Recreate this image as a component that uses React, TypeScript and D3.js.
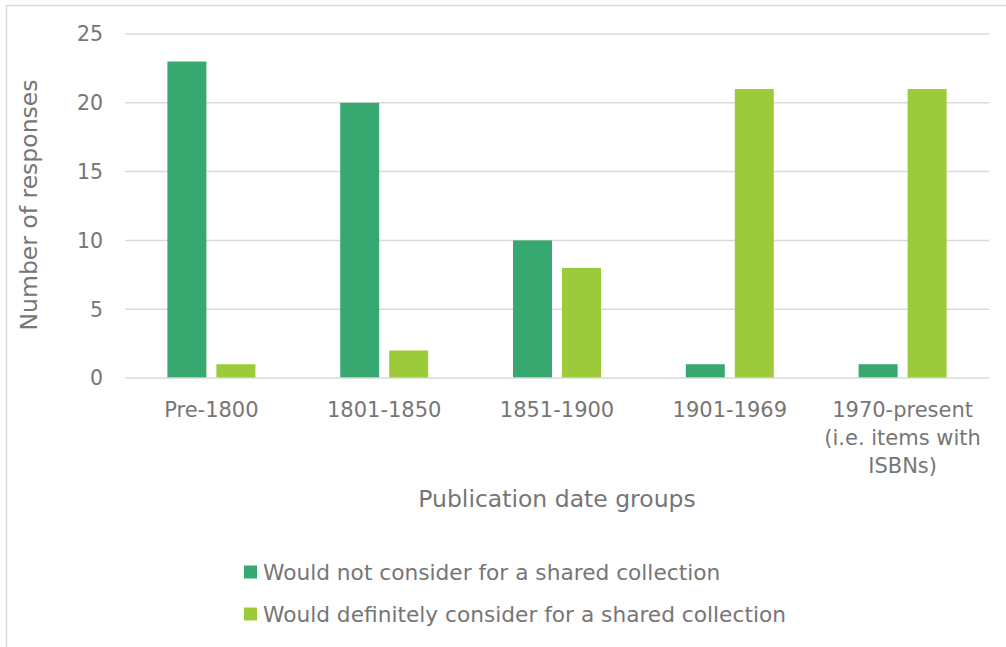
import React from "react";
import * as d3 from "d3";

const categories: string[][] = [
  ["Pre-1800"],
  ["1801-1850"],
  ["1851-1900"],
  ["1901-1969"],
  ["1970-present", "(i.e. items with", "ISBNs)"],
];
const seriesNames = [
  "Would not consider for a shared collection",
  "Would definitely consider for a shared collection",
];
const wouldNot = [23, 20, 10, 1, 1];
const wouldDefinitely = [1, 2, 8, 21, 21];
const yTicks = [0, 5, 10, 15, 20, 25];
const colors = ["#37A86F", "#9BCB3B"];
const xTitle = "Publication date groups";
const yTitle = "Number of responses";

const W = 1006;
const H = 647;
const left = 125;
const right = 989;
const top = 34;
const bottom = 378;
const font = "'DejaVu Sans', sans-serif";
const textColor = "#767676";

export default function App() {
  const idx = categories.map((_, i) => String(i));
  const x = d3.scaleBand<string>().domain(idx).range([left, right]).paddingInner(0).paddingOuter(0);
  const y = d3.scaleLinear().domain([0, 25]).range([bottom, top]);
  const barW = 39;
  const gap = 10;
  const series = [wouldNot, wouldDefinitely];

  return (
    <svg width={W} height={H} style={{ position: "absolute", left: 0, top: 0, display: "block" }}>
      <rect x={0} y={0} width={W} height={H} fill="#fff" />
      <rect x={6.5} y={5.5} width={W + 10} height={H + 10} fill="none" stroke="#d9d9d9" strokeWidth={1.5} />
      {yTicks.map((t) => (
        <g key={t}>
          {t > 0 && (
            <line x1={left} x2={right} y1={y(t)} y2={y(t)} stroke="#d9d9d9" strokeWidth={1.5} />
          )}
          <text x={103} y={y(t)} dy="0.36em" textAnchor="end" fontFamily={font} fontSize={20.5} fill={textColor}>
            {t}
          </text>
        </g>
      ))}
      {series.map((vals, s) =>
        vals.map((v, i) => {
          const cx = (x(String(i)) as number) + x.bandwidth() / 2;
          const bx = s === 0 ? cx - gap / 2 - barW : cx + gap / 2;
          return (
            <rect key={`${s}-${i}`} x={bx} y={y(v)} width={barW} height={y(0) - y(v)} fill={colors[s]} />
          );
        })
      )}
      <line x1={left} x2={right} y1={y(0)} y2={y(0)} stroke="#d9d9d9" strokeWidth={1.5} />
      {categories.map((lines, i) => {
        const cx = (x(String(i)) as number) + x.bandwidth() / 2;
        return (
          <text key={i} textAnchor="middle" fontFamily={font} fontSize={21} fill={textColor}>
            {lines.map((l, j) => (
              <tspan key={j} x={cx} y={417 + j * 28}>
                {l}
              </tspan>
            ))}
          </text>
        );
      })}
      <text x={557} y={507} textAnchor="middle" fontFamily={font} fontSize={23.5} fill={textColor}>
        {xTitle}
      </text>
      <text
        transform={`translate(37, 205) rotate(-90)`}
        textAnchor="middle"
        fontFamily={font}
        fontSize={23.5}
        fill={textColor}
      >
        {yTitle}
      </text>
      {seriesNames.map((n, i) => (
        <g key={n} transform={`translate(244, ${572 + i * 42})`}>
          <rect x={0} y={-6.5} width={13} height={13} fill={colors[i]} />
          <text x={19} y={0} dy="0.36em" fontFamily={font} fontSize={21.7} fill={textColor}>
            {n}
          </text>
        </g>
      ))}
    </svg>
  );
}
